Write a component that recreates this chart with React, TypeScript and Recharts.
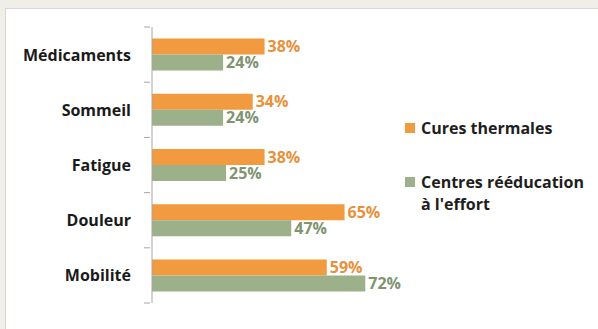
import React from "react";
import { BarChart, Bar, XAxis, YAxis, LabelList, Legend } from "recharts";

const categories = ["Médicaments", "Sommeil", "Fatigue", "Douleur", "Mobilité"];
const curesThermales = [38, 34, 38, 65, 59];
const centresReeducation = [24, 24, 25, 47, 72];

const SERIES = [
  { key: "cures", name: "Cures thermales", color: "#f29a3f", label: "#e8913a" },
  { key: "centres", name: "Centres rééducation\nà l'effort", color: "#9cb08a", label: "#7f9470" },
];

const data = categories.map((c, i) => ({
  name: c,
  cures: curesThermales[i],
  centres: centresReeducation[i],
}));

const FONT = "'Open Sans', Lato, sans-serif";
const TOP = 27;
const BOTTOM = 26;
const HEIGHT = 329;
const BAND = (HEIGHT - TOP - BOTTOM) / categories.length;

// category label + excel-style ticks between categories
const CategoryTick = (props: any) => {
  const { x, y, payload, index } = props;
  const axisX = x + 6;
  return (
    <g>
      <line x1={axisX - 6} x2={axisX} y1={y - BAND / 2} y2={y - BAND / 2} stroke="#a6a6a6" />
      {index === categories.length - 1 && (
        <line x1={axisX - 6} x2={axisX} y1={y + BAND / 2} y2={y + BAND / 2} stroke="#a6a6a6" />
      )}
      <text
        x={x - 13}
        y={y}
        dy={6}
        textAnchor="end"
        fontFamily={FONT}
        fontWeight={700}
        fontSize={16}
        fill="#1a1a1a"
      >
        {payload.value}
      </text>
    </g>
  );
};

const LegendBox = () => (
  <div style={{ fontFamily: FONT, fontWeight: 700, fontSize: 16, color: "#1e1e1e" }}>
    {SERIES.map((s, i) => (
      <div key={s.key} style={{ display: "flex", alignItems: "flex-start", marginBottom: i === 0 ? 32 : 0 }}>
        <span
          style={{
            width: 10,
            height: 10,
            background: s.color,
            marginTop: 6,
            marginRight: 6,
            flexShrink: 0,
          }}
        />
        <span style={{ whiteSpace: "pre", lineHeight: "22px", marginTop: 0 }}>{s.name}</span>
      </div>
    ))}
  </div>
);

export default function App() {
  return (
    <div style={{ position: "absolute", left: 0, top: 0, width: 598, height: 329, background: "#efeee9", overflow: "hidden" }}>
      <div
        style={{
          position: "absolute",
          left: 5,
          top: 8,
          width: 600,
          height: 330,
          background: "#ffffff",
          border: "1px solid #d9d7d1",
        }}
      />
      <div style={{ position: "absolute", left: 0, top: 0 }}>
        <BarChart
          width={598}
          height={HEIGHT}
          data={data}
          layout="vertical"
          margin={{ top: TOP, bottom: BOTTOM, left: 0, right: 209 }}
          barCategoryGap="21%"
          barGap={0}
        >
          <XAxis type="number" domain={[0, 80]} hide />
          <YAxis
            type="category"
            dataKey="name"
            width={152}
            axisLine={{ stroke: "#a6a6a6" }}
            tickLine={false}
            tick={<CategoryTick />}
          />
          {SERIES.map((s) => (
            <Bar key={s.key} dataKey={s.key} name={s.name} fill={s.color} isAnimationActive={false}>
              <LabelList
                dataKey={s.key}
                position="right"
                offset={3}
                formatter={(v: any) => `${v}%`}
                style={{ fontFamily: FONT, fontWeight: 700, fontSize: 16, fill: s.label }}
              />
            </Bar>
          ))}
          <Legend
            layout="horizontal"
            align="center"
            verticalAlign="middle"
            content={<LegendBox />}
            wrapperStyle={{ left: 405, top: 117, width: 190 }}
          />
        </BarChart>
      </div>
    </div>
  );
}
